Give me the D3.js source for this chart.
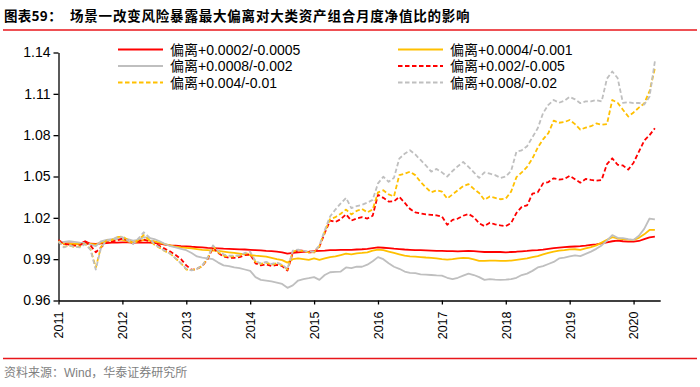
<!DOCTYPE html>
<html><head><meta charset="utf-8">
<script src="https://cdn.jsdelivr.net/npm/d3@7"></script>
<style>body{margin:0;background:#fff}svg{display:block}</style>
</head><body><svg id="c" width="700" height="387"></svg>
<script>
// ---- data ----
const titleLead = "图表59：";
const titleMain = "场景一改变风险暴露最大偏离对大类资产组合月度净值比的影响";
const source = "资料来源：Wind，华泰证券研究所";
const years = ["2011","2012","2013","2014","2015","2016","2017","2018","2019","2020"];
const yTicks = [0.96,0.99,1.02,1.05,1.08,1.11,1.14];
const seriesNames = ["偏离+0.0002/-0.0005","偏离+0.0004/-0.001","偏离+0.0008/-0.002","偏离+0.002/-0.005","偏离+0.004/-0.01","偏离+0.008/-0.02"];
// monthly values Jan 2011 .. May 2020
const dev0002 = [
1.0040,1.0012,1.0015,1.0012,1.0010,1.0030,1.0012,1.0010,1.0015,1.0016,1.0020,1.0020,
1.0022,1.0022,1.0020,1.0021,1.0020,1.0020,1.0018,1.0012,1.0005,1.0000,0.9998,0.9995,
0.9993,0.9990,0.9988,0.9985,0.9982,0.9980,0.9978,0.9976,0.9975,0.9973,0.9971,0.9970,
0.9968,0.9966,0.9964,0.9960,0.9958,0.9955,0.9950,0.9940,0.9946,0.9950,0.9953,0.9955,
0.9958,0.9960,0.9962,0.9965,0.9966,0.9967,0.9968,0.9968,0.9970,0.9972,0.9975,0.9980,
0.9985,0.9983,0.9980,0.9976,0.9973,0.9970,0.9968,0.9966,0.9965,0.9964,0.9962,0.9960,
0.9960,0.9959,0.9958,0.9956,0.9958,0.9960,0.9958,0.9955,0.9952,0.9952,0.9953,0.9952,
0.9950,0.9952,0.9954,0.9957,0.9960,0.9964,0.9966,0.9970,0.9975,0.9980,0.9984,0.9987,
0.9990,0.9992,0.9994,0.9998,1.0003,1.0008,1.0014,1.0022,1.0030,1.0034,1.0030,1.0028,
1.0027,1.0032,1.0045,1.0058,1.0063];
const dev0004 = [
1.0025,1.0015,1.0012,1.0010,1.0012,1.0015,1.0010,1.0005,1.0020,1.0030,1.0040,1.0045,
1.0040,1.0030,1.0020,1.0030,1.0040,1.0035,1.0030,1.0020,1.0010,1.0000,0.9990,0.9985,
0.9982,0.9978,0.9973,0.9968,0.9965,0.9962,0.9960,0.9955,0.9950,0.9945,0.9940,0.9935,
0.9930,0.9925,0.9922,0.9918,0.9910,0.9900,0.9893,0.9875,0.9900,0.9905,0.9900,0.9895,
0.9905,0.9895,0.9905,0.9915,0.9920,0.9930,0.9940,0.9935,0.9942,0.9945,0.9950,0.9962,
0.9970,0.9965,0.9955,0.9945,0.9935,0.9925,0.9920,0.9918,0.9915,0.9912,0.9910,0.9905,
0.9900,0.9897,0.9900,0.9905,0.9910,0.9908,0.9898,0.9888,0.9888,0.9890,0.9889,0.9888,
0.9888,0.9890,0.9895,0.9900,0.9905,0.9915,0.9922,0.9935,0.9945,0.9955,0.9962,0.9965,
0.9971,0.9972,0.9968,0.9978,0.9988,1.0000,1.0020,1.0040,1.0060,1.0050,1.0045,1.0042,
1.0040,1.0055,1.0080,1.0112,1.0112];
const dev0008 = [
1.0020,1.0025,1.0030,1.0025,1.0020,1.0018,1.0005,0.9995,1.0030,1.0040,1.0045,1.0045,
1.0050,1.0045,1.0035,1.0040,1.0060,1.0055,1.0045,1.0030,1.0010,0.9995,0.9985,0.9975,
0.9965,0.9945,0.9920,0.9912,0.9905,0.9900,0.9875,0.9855,0.9850,0.9840,0.9835,0.9825,
0.9815,0.9770,0.9750,0.9745,0.9738,0.9730,0.9720,0.9692,0.9710,0.9745,0.9755,0.9762,
0.9770,0.9750,0.9785,0.9805,0.9808,0.9810,0.9840,0.9835,0.9845,0.9845,0.9860,0.9885,
0.9915,0.9900,0.9870,0.9845,0.9830,0.9810,0.9800,0.9798,0.9790,0.9788,0.9785,0.9782,
0.9780,0.9765,0.9755,0.9765,0.9780,0.9795,0.9785,0.9770,0.9750,0.9755,0.9752,0.9750,
0.9752,0.9755,0.9765,0.9785,0.9795,0.9815,0.9840,0.9850,0.9865,0.9880,0.9905,0.9912,
0.9920,0.9928,0.9922,0.9938,0.9955,0.9975,1.0000,1.0035,1.0075,1.0055,1.0052,1.0045,
1.0040,1.0070,1.0120,1.0195,1.0188];
const dev002 = [
1.0032,1.0012,1.0005,0.9998,1.0000,1.0025,1.0000,0.9950,0.9985,1.0025,1.0030,1.0035,
1.0050,1.0035,1.0015,1.0030,1.0042,1.0030,1.0015,0.9995,0.9975,0.9955,0.9930,0.9900,
0.9855,0.9822,0.9830,0.9850,0.9900,0.9985,0.9945,0.9920,0.9910,0.9910,0.9915,0.9930,
0.9935,0.9870,0.9855,0.9862,0.9850,0.9858,0.9850,0.9818,0.9945,0.9965,0.9960,0.9950,
0.9950,0.9990,1.0090,1.0180,1.0170,1.0190,1.0225,1.0180,1.0195,1.0205,1.0195,1.0215,
1.0368,1.0345,1.0318,1.0320,1.0352,1.0310,1.0265,1.0240,1.0232,1.0225,1.0222,1.0218,
1.0210,1.0150,1.0185,1.0195,1.0215,1.0228,1.0205,1.0160,1.0140,1.0165,1.0152,1.0145,
1.0140,1.0162,1.0235,1.0280,1.0290,1.0375,1.0385,1.0450,1.0460,1.0487,1.0478,1.0482,
1.0505,1.0480,1.0455,1.0482,1.0475,1.0470,1.0475,1.0590,1.0632,1.0585,1.0580,1.0550,
1.0600,1.0680,1.0760,1.0800,1.0850];
const dev004 = [
1.0032,0.9990,1.0000,0.9988,0.9992,1.0012,0.9975,0.9840,0.9990,1.0035,1.0038,1.0060,
1.0065,1.0040,1.0015,1.0040,1.0075,1.0040,1.0005,0.9982,0.9958,0.9940,0.9905,0.9870,
0.9825,0.9820,0.9830,0.9850,0.9905,0.9995,0.9950,0.9925,0.9918,0.9920,0.9925,0.9940,
0.9945,0.9880,0.9865,0.9875,0.9860,0.9870,0.9855,0.9825,0.9955,0.9965,0.9958,0.9950,
0.9950,0.9995,1.0100,1.0190,1.0205,1.0230,1.0260,1.0225,1.0250,1.0265,1.0240,1.0260,
1.0385,1.0400,1.0370,1.0355,1.0510,1.0520,1.0535,1.0510,1.0460,1.0420,1.0385,1.0400,
1.0390,1.0340,1.0370,1.0400,1.0430,1.0445,1.0410,1.0380,1.0330,1.0355,1.0345,1.0335,
1.0340,1.0390,1.0495,1.0530,1.0570,1.0630,1.0710,1.0770,1.0815,1.0905,1.0890,1.0895,
1.0910,1.0880,1.0840,1.0855,1.0865,1.0885,1.0875,1.0880,1.1055,1.1035,1.0985,1.0935,
1.0965,1.1000,1.1030,1.1120,1.1285];
const dev008 = [
1.0030,0.9985,1.0000,0.9990,0.9985,1.0010,0.9970,0.9825,0.9985,1.0035,1.0040,1.0060,
1.0060,1.0035,1.0010,1.0050,1.0095,1.0060,1.0010,0.9985,0.9960,0.9940,0.9905,0.9870,
0.9830,0.9818,0.9830,0.9855,0.9910,1.0000,0.9960,0.9935,0.9925,0.9925,0.9930,0.9945,
0.9955,0.9885,0.9870,0.9880,0.9865,0.9875,0.9860,0.9828,0.9962,0.9970,0.9962,0.9955,
0.9955,1.0000,1.0110,1.0210,1.0260,1.0305,1.0345,1.0270,1.0285,1.0295,1.0310,1.0330,
1.0450,1.0498,1.0462,1.0490,1.0630,1.0665,1.0690,1.0660,1.0620,1.0580,1.0535,1.0555,
1.0530,1.0500,1.0540,1.0575,1.0605,1.0570,1.0530,1.0490,1.0530,1.0520,1.0510,1.0490,
1.0500,1.0540,1.0680,1.0690,1.0720,1.0785,1.0850,1.0960,1.1020,1.1055,1.1035,1.1050,
1.1078,1.1060,1.1032,1.1045,1.1045,1.1055,1.1045,1.1210,1.1262,1.1215,1.1035,1.1040,
1.1032,1.1035,1.1022,1.1080,1.1335];

const seriesValues = [dev0002, dev0004, dev0008, dev002, dev004, dev008];
const colors = ["#FF0000","#FFC000","#BFBFBF","#FF0000","#FFC000","#BFBFBF"];
const dashes = [null,null,null,"4.5,2.5","4.5,2.5","4.5,2.5"];

// ---- chart ----
const svg = d3.select("#c");
const latin = "'Liberation Sans', Arial, sans-serif";
const cjk = "'Liberation Sans', 'Noto Sans CJK SC', sans-serif";

const x = d3.scaleLinear().domain([0, 113]).range([58.5, 660.2]);
const y = d3.scaleLinear().domain([0.96, 1.14]).range([300.5, 52.5]);

// title
const t = svg.append("text").attr("x", 4).attr("y", 21)
  .attr("font-family", "'Noto Sans CJK SC', sans-serif").attr("font-weight", 700)
  .attr("font-size", 13.5).attr("fill", "#000");
t.append("tspan").attr("letter-spacing", 0.3).text(titleLead);
t.append("tspan").attr("x", 70).attr("letter-spacing", 0.8).text(titleMain);
svg.append("line").attr("x1", 3).attr("x2", 697).attr("y1", 30).attr("y2", 30)
  .attr("stroke", "#E8161B").attr("stroke-width", 1.3);
// footer
svg.append("line").attr("x1", 3).attr("x2", 697).attr("y1", 358.5).attr("y2", 358.5)
  .attr("stroke", "#E8161B").attr("stroke-width", 1.3);
svg.append("text").attr("x", 4).attr("y", 377)
  .attr("font-family", cjk).attr("font-size", 12).attr("fill", "#7F7F7F").text(source);

// axes
const yAxis = svg.append("g").attr("transform", "translate(58.5,0)")
  .call(d3.axisLeft(y).tickValues(yTicks).tickFormat(d3.format(".2f")).tickSize(5).tickSizeOuter(0));
yAxis.select(".domain").attr("stroke", "#000").attr("stroke-width", 1.3);
yAxis.selectAll(".tick line").attr("stroke", "#000").attr("stroke-width", 1.3);
yAxis.selectAll(".tick text").attr("font-family", latin).attr("font-size", 14).attr("fill", "#000").attr("x", -8);

const xAxis = svg.append("g").attr("transform", "translate(0,300.5)")
  .call(d3.axisBottom(x).tickValues(years.map((d, i) => i * 12)).tickFormat((d, i) => years[i]).tickSize(4).tickSizeOuter(0));
xAxis.select(".domain").attr("stroke", "#000").attr("stroke-width", 1.3);
xAxis.selectAll(".tick line").attr("stroke", "#000").attr("stroke-width", 1.3);
xAxis.selectAll(".tick text").attr("font-family", latin).attr("font-size", 12.5).attr("fill", "#000")
  .attr("transform", "rotate(-90)").attr("text-anchor", "end").attr("x", -11).attr("y", 0).attr("dy", "0.35em");

// lines
const line = d3.line().x((d, i) => x(i)).y(d => y(d));
seriesValues.forEach((vals, k) => {
  svg.append("path").datum(vals).attr("d", line).attr("fill", "none")
    .attr("stroke", colors[k]).attr("stroke-width", 1.8)
    .attr("stroke-dasharray", dashes[k]).attr("stroke-linejoin", "round");
});

// legend
const legPos = [[118, 49.5], [398, 49.5], [118, 66], [398, 66], [118, 82.5], [398, 82.5]];
seriesNames.forEach((name, k) => {
  const [lx, ly] = legPos[k];
  svg.append("line").attr("x1", lx).attr("x2", lx + 45).attr("y1", ly).attr("y2", ly)
    .attr("stroke", colors[k]).attr("stroke-width", 1.8).attr("stroke-dasharray", dashes[k]);
  svg.append("text").attr("x", lx + 52).attr("y", ly).attr("dy", "0.36em")
    .attr("font-family", cjk).attr("font-size", 14).attr("fill", "#000").text(name);
});
</script></body></html>
